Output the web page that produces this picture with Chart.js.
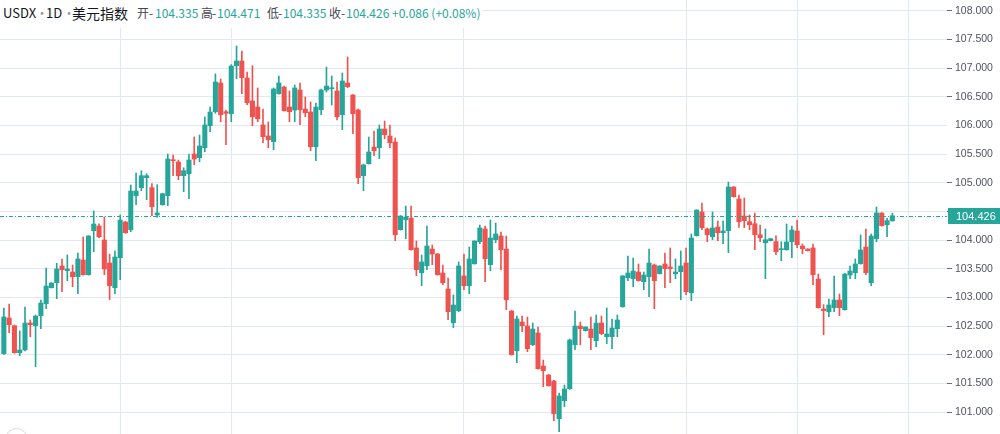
<!DOCTYPE html>
<html><head><meta charset="utf-8">
<script src="https://cdn.jsdelivr.net/npm/chart.js@4.4.1/dist/chart.umd.min.js"></script>
<style>
html,body{margin:0;padding:0;background:#fff;}
#wrap{position:relative;width:1000px;height:434px;overflow:hidden;background:#fff;}
#c{position:absolute;left:0;top:0;}
#hdr{position:absolute;left:0;top:0;width:482px;height:28px;background:#fff;font-family:"Noto Sans CJK SC",sans-serif;}
#hdr span{position:absolute;top:0;height:26px;line-height:26px;white-space:nowrap;}
.t13{font-size:13px;color:#131722;}
.t14{font-size:14px;color:#131722;}
.dot{font-size:13px;color:#9598a1;}
.lbl{font-size:12px;color:#434651;}
.val{font-size:12px;color:#26a69a;}
#btn{position:absolute;left:5px;top:428px;width:21px;height:21px;border-radius:50%;border:1px solid #d6d9de;background:#fff;}
</style></head>
<body>
<div id="wrap">
<canvas id="c" width="1000" height="434"></canvas>
<div id="hdr">
 <span class="t13" style="left:3px">USDX</span>
 <span class="dot" style="left:35.5px">·</span>
 <span class="t13" style="left:46px">1D</span>
 <span class="dot" style="left:62.5px">·</span>
 <span class="t14" style="left:72px">美元指数</span>
 <span class="lbl" style="left:137px">开</span><span class="lbl" style="left:149px">-</span><span class="val" id="vO" style="left:155px"></span>
 <span class="lbl" style="left:201px">高</span><span class="lbl" style="left:212px">-</span><span class="val" id="vH" style="left:217px"></span>
 <span class="lbl" style="left:267px">低</span><span class="lbl" style="left:278px">-</span><span class="val" id="vL" style="left:283px"></span>
 <span class="lbl" style="left:329px">收</span><span class="lbl" style="left:341px">-</span><span class="val" id="vC" style="left:346px"></span>
 <span class="val" id="vChg" style="left:392px"></span>
</div>
<div id="btn"></div>
</div>
<script>
// ---- data (USDX daily candles, index 0..168) ----
const openValues = [102.021,102.643,102.509,102.039,102.086,102.556,102.509,102.684,102.893,103.172,103.259,103.550,103.468,103.445,103.363,103.654,103.398,104.165,104.247,104.003,103.602,103.172,103.694,104.317,104.183,104.775,104.915,105.089,104.915,104.439,104.618,104.775,105.397,105.363,105.124,105.159,105.502,105.438,105.612,105.995,106.239,106.740,106.239,106.205,107.041,107.123,106.827,106.426,106.321,106.008,105.816,105.717,106.553,106.670,106.321,106.269,106.618,106.286,106.234,105.629,106.274,106.618,106.640,106.600,106.187,106.740,106.531,106.269,105.124,105.333,105.624,105.612,105.938,105.816,105.711,104.183,104.357,104.387,103.864,103.433,103.555,103.846,103.759,103.428,103.149,102.561,102.771,103.376,103.206,103.590,103.974,104.195,103.573,104.008,104.073,103.846,102.765,102.074,102.574,102.504,102.178,102.382,101.807,101.650,101.545,100.888,101.202,101.411,102.178,102.504,102.422,102.452,102.248,102.556,102.318,102.318,102.457,102.840,103.346,103.329,103.445,103.277,103.363,103.567,103.416,103.585,103.532,103.416,103.450,103.602,103.084,104.078,104.491,104.195,104.061,104.230,104.130,104.165,104.927,104.718,104.421,104.322,104.287,104.095,103.956,103.991,103.974,103.834,103.834,103.974,104.160,103.898,103.846,103.864,103.323,102.800,102.753,102.823,102.957,102.788,103.393,103.433,103.590,103.881,103.259,104.026,104.474,104.270,104.335];
const highValues = [102.818,102.888,102.520,102.417,102.835,102.609,102.696,102.957,103.515,103.260,103.597,103.672,103.742,103.567,103.777,104.055,104.080,104.509,104.287,104.404,103.759,103.812,104.439,104.330,104.962,105.171,105.211,105.159,104.985,104.967,104.820,105.502,105.485,105.397,105.263,105.502,105.798,105.833,106.147,106.321,106.897,106.809,106.269,107.059,107.385,107.297,106.932,107.041,106.653,106.286,106.060,106.653,106.862,106.687,106.600,106.705,106.740,106.496,106.409,106.391,106.635,107.019,106.862,106.757,106.914,107.193,106.540,106.286,105.328,105.798,105.903,106.008,106.077,106.008,105.781,104.430,104.596,104.596,103.986,103.742,104.247,103.916,103.770,103.567,103.341,103.044,103.620,103.759,103.881,103.990,104.265,104.247,104.352,104.299,104.143,104.073,102.775,102.678,102.678,102.661,102.556,102.487,101.911,101.660,101.555,101.336,101.475,102.277,102.765,102.574,102.490,102.661,102.696,102.678,102.818,102.626,102.696,103.385,103.724,103.689,103.585,103.445,103.846,103.585,103.555,103.777,103.864,103.672,103.812,103.864,104.108,104.530,104.648,104.212,104.491,104.334,104.334,105.014,104.935,104.788,104.735,104.439,104.474,104.265,104.195,104.030,104.078,103.974,104.282,104.247,104.352,103.933,103.850,103.933,103.410,102.875,102.975,103.376,103.062,103.420,103.550,103.672,104.090,104.195,104.108,104.578,104.480,104.387,104.471];
const lowValues = [102.010,102.387,102.030,101.986,102.068,102.317,101.795,102.457,102.806,103.165,102.980,103.102,103.294,103.189,103.067,103.390,103.390,103.799,104.043,103.398,102.962,103.067,103.311,104.120,104.148,104.618,104.862,104.706,104.427,104.400,104.610,104.601,105.124,105.054,104.845,104.723,105.316,105.368,105.542,105.891,106.212,106.065,105.664,106.065,106.815,106.553,106.361,105.995,106.065,105.699,105.612,105.577,106.545,106.250,106.065,106.065,106.013,106.152,105.560,105.385,106.187,106.583,106.356,106.095,105.926,106.658,105.856,104.985,104.862,105.325,105.473,105.420,105.769,105.612,103.991,104.175,104.026,103.825,103.381,103.206,103.485,103.573,103.390,103.224,102.614,102.474,102.753,103.137,103.067,103.580,103.939,103.276,103.468,103.956,103.485,102.788,101.995,101.864,102.405,102.056,102.161,101.752,101.446,101.455,100.853,100.662,101.097,101.400,102.091,102.178,102.415,102.091,102.143,102.352,102.196,102.108,102.317,102.830,103.294,103.189,103.285,103.137,103.015,102.806,103.410,103.172,103.259,103.329,102.962,103.050,102.945,104.070,104.183,103.974,104.008,103.991,103.939,103.782,104.750,104.221,104.218,104.183,103.834,103.974,103.329,103.985,103.747,103.642,103.825,103.694,103.869,103.764,103.810,103.224,102.815,102.352,102.666,102.753,102.684,102.780,103.329,103.329,103.580,103.398,103.207,103.974,104.245,104.061,104.335];
const closeValues = [102.661,102.527,102.039,102.086,102.556,102.527,102.678,102.905,103.201,103.254,103.498,103.485,103.498,103.363,103.672,103.398,104.073,104.282,104.060,103.498,103.206,103.707,104.352,104.130,104.857,104.857,105.124,105.124,104.584,104.474,104.810,105.415,105.385,105.124,105.211,105.397,105.415,105.642,106.008,106.234,106.757,106.187,106.212,107.036,107.123,106.832,106.396,106.152,106.117,105.804,105.751,106.635,106.740,106.257,106.239,106.653,106.274,106.222,105.629,106.321,106.618,106.687,106.653,106.152,106.775,106.675,106.205,105.089,105.310,105.537,105.560,105.938,105.839,105.699,104.095,104.421,104.404,103.834,103.485,103.620,103.898,103.759,103.398,103.259,102.753,102.870,103.550,103.206,103.672,103.986,104.212,103.677,104.038,104.108,103.834,102.962,102.004,102.626,102.509,102.108,102.452,101.760,101.725,101.463,100.975,101.284,101.406,102.260,102.504,102.457,102.487,102.300,102.556,102.370,102.365,102.469,102.609,103.376,103.428,103.463,103.294,103.393,103.602,103.294,103.550,103.503,103.503,103.445,103.550,103.102,104.038,104.526,104.217,104.095,104.212,104.130,104.160,104.927,104.758,104.322,104.340,104.270,104.095,104.043,104.008,104.026,103.799,103.846,103.968,104.177,103.921,103.851,103.817,103.398,102.823,102.771,102.870,102.957,102.823,103.410,103.463,103.585,103.829,103.433,104.073,104.474,104.252,104.340,104.426];
const candleIndex = openValues.map((_, i) => i);
const monthGridIndex = [22, 43, 87, 129, 150, 171];
const yTickValues = [101, 101.5, 102, 102.5, 103, 103.5, 104, 104.5, 105, 105.5, 106, 106.5, 107, 107.5, 108];

// ---- styles ----
const UP = '#26a69a', DOWN = '#ef5350', GRID = '#e0e9f0';
const last = openValues.length - 1;
const lastClose = closeValues[last];

// header
document.getElementById('vO').textContent = openValues[last].toFixed(3);
document.getElementById('vH').textContent = highValues[last].toFixed(3);
document.getElementById('vL').textContent = lowValues[last].toFixed(3);
document.getElementById('vC').textContent = closeValues[last].toFixed(3);
const chg = closeValues[last] - closeValues[last - 1];
const pct = chg / closeValues[last - 1] * 100;
document.getElementById('vChg').textContent = (chg >= 0 ? '+' : '') + chg.toFixed(3) + ' (' + (pct >= 0 ? '+' : '') + pct.toFixed(2) + '%)';

const colorFor = ctx => closeValues[ctx.dataIndex] >= openValues[ctx.dataIndex] ? UP : DOWN;

const lastPricePlugin = {
  id: 'lastPrice',
  afterDatasetsDraw(chart) {
    const c = chart.ctx, a = chart.chartArea;
    const y = Math.round(chart.scales.y.getPixelForValue(lastClose)) + 0.5;
    c.save();
    c.strokeStyle = UP; c.lineWidth = 1; c.setLineDash([4, 2, 1, 2]);
    c.beginPath(); c.moveTo(a.left, y); c.lineTo(a.right, y); c.stroke();
    c.restore();
  },
  afterDraw(chart) {
    const c = chart.ctx, a = chart.chartArea;
    const y = Math.round(chart.scales.y.getPixelForValue(lastClose));
    c.save();
    c.fillStyle = UP;
    c.fillRect(a.right + 1, y - 8, chart.width - a.right - 1, 16);
    c.fillStyle = '#ffffff';
    c.font = '11px "Liberation Sans", Arial, sans-serif';
    c.textBaseline = 'middle'; c.textAlign = 'left';
    c.fillText(lastClose.toFixed(3), a.right + 9, y + 0.5);
    c.restore();
  }
};

const xSpacing = 5.2886, firstX = 3.85, plotRight = 947;
const xMin = -firstX / xSpacing;
const xMax = xMin + plotRight / xSpacing;
const pxPerUnit = 57.37, y108 = 10.7;
const yMax = 108 + y108 / pxPerUnit;
const yMin = 108 - (434 - y108) / pxPerUnit;

new Chart(document.getElementById('c'), {
  type: 'bar',
  data: {
    datasets: [
      { label: 'wick', data: candleIndex.map(i => ({ x: i, y: [lowValues[i], highValues[i]] })),
        backgroundColor: colorFor, barThickness: 1, grouped: false, order: 2, minBarLength: 1 },
      { label: 'body', data: candleIndex.map(i => ({ x: i, y: [openValues[i], closeValues[i]] })),
        backgroundColor: colorFor, barThickness: 4.4, grouped: false, order: 1, minBarLength: 1 }
    ]
  },
  options: {
    responsive: false, animation: false, maintainAspectRatio: false,
    layout: { padding: 0 },
    plugins: { legend: { display: false }, tooltip: { enabled: false } },
    scales: {
      x: {
        type: 'linear', min: xMin, max: xMax, offset: false,
        afterBuildTicks: s => { s.ticks = monthGridIndex.map(v => ({ value: v })); },
        ticks: { display: false },
        grid: { color: GRID, drawTicks: false, lineWidth: 1, offset: false },
        border: { display: false },
        afterFit: s => { s.height = 0; s.paddingLeft = 0; s.paddingRight = 0; }
      },
      y: {
        position: 'right', min: yMin, max: yMax,
        afterBuildTicks: s => { s.ticks = yTickValues.map(v => ({ value: v })); },
        ticks: {
          autoSkip: false, padding: 3, color: '#50535e',
          font: { family: '"Liberation Sans", Arial, sans-serif', size: 10.5 },
          callback: v => Math.abs(v - lastClose) < 0.15 ? '' : Number(v).toFixed(3)
        },
        grid: {
          color: GRID, lineWidth: 1, tickLength: 5,
          tickColor: ctx => (ctx.tick && (ctx.tick.value === 106 || ctx.tick.value === 105.5)) ? 'rgba(0,0,0,0)' : '#6a6d78'
        },
        border: { display: false },
        afterFit: s => { s.width = 1000 - plotRight; s.paddingTop = 0; s.paddingBottom = 0; }
      }
    }
  },
  plugins: [lastPricePlugin]
});
</script>
</body></html>
